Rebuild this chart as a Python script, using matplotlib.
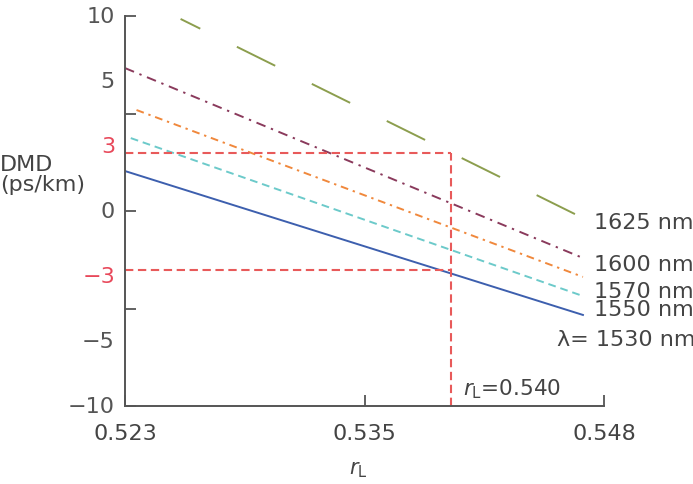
import matplotlib
matplotlib.use("Agg")
import matplotlib.pyplot as plt
import numpy as np

plt.rcParams["font.family"] = ["DejaVu Sans"]
plt.rcParams["mathtext.fontset"] = "dejavusans"

# line end points (r_L, DMD in ps/km)
x_1530 = [0.5230, 0.5469]
y_1530 = [2.05, -5.33]
x_1550 = [0.5233, 0.5469]
y_1550 = [3.74, -4.36]
x_1570 = [0.5236, 0.5469]
y_1570 = [5.18, -3.38]
x_1600 = [0.5230, 0.5469]
y_1600 = [7.33, -2.41]
x_1625 = [0.5259, 0.5469]
y_1625 = [9.85, -0.36]

r_sel = 0.540
dmd_hi = 3
dmd_lo = -3

xticks = [0.523, 0.5355, 0.548]
xtick_labels = ["0.523", "0.535", "0.548"]
yticks = [10, 5, 0, -5, -10]
ylabels = ["10", "5", "3", "0", "\u22123", "\u22125", "\u221210"]
ylabel_colors = ["#555555", "#555555", "#e8485a", "#555555", "#e8485a", "#555555", "#555555"]

gray = "#555555"
red = "#e85a5a"
fs = 16

fig = plt.figure(figsize=(6.93, 4.85), dpi=100)
ax = fig.add_axes([0.1804, 0.1608, 0.6912, 0.8041])

ax.plot(x_1625, y_1625, color="#8c9e4e", lw=1.4, linestyle=(10.7, (22, 21)))
ax.plot(x_1600, y_1600, color="#8a3a5c", lw=1.4, dashes=(5, 3, 1.2, 3))
ax.plot(x_1570, y_1570, color="#f0883c", lw=1.4, dashes=(4, 2.5, 1.2, 2.5))
ax.plot(x_1550, y_1550, color="#6ccaca", lw=1.4, dashes=(4, 2.5))
ax.plot(x_1530, y_1530, color="#3d5fae", lw=1.4)

# red guide lines
ax.plot([0.523, r_sel], [dmd_hi, dmd_hi], color=red, lw=1.5, dashes=(4, 2.2))
ax.plot([0.523, r_sel], [dmd_lo, dmd_lo], color=red, lw=1.5, dashes=(4, 2.2))
ax.plot([r_sel, r_sel], [-10, dmd_hi], color=red, lw=1.5, dashes=(4, 2.2))

ax.set_xlim(0.523, 0.548)
ax.set_ylim(-10, 10)
ax.spines["top"].set_visible(False)
ax.spines["right"].set_visible(False)
for s in ["left", "bottom"]:
    ax.spines[s].set_color(gray)
    ax.spines[s].set_linewidth(1.4)

ax.set_xticks(xticks)
ax.set_xticklabels(xtick_labels)
ax.set_yticks(yticks)
ax.set_yticklabels([])
ax.tick_params(direction="in", length=8, width=1.3, color=gray,
               labelsize=fs, labelcolor="#444444")
ax.tick_params(axis="x", pad=12)

# y labels are evenly spaced in the original, not at the ticks
for i, (lab, c) in enumerate(zip(ylabels, ylabel_colors)):
    ax.text(-0.021, 1 - i / 6, lab, transform=ax.transAxes, ha="right",
            va="center", fontsize=fs, color=c)

# wavelength labels
lab_kw = dict(fontsize=fs, color="#444444", va="center", clip_on=False)
ax.text(0.54748, -0.56, "1625 nm", **lab_kw)
ax.text(0.54748, -2.72, "1600 nm", **lab_kw)
ax.text(0.54748, -4.10, "1570 nm", **lab_kw)
ax.text(0.54748, -5.03, "1550 nm", **lab_kw)
ax.text(0.54555, -6.56, "\u03bb= 1530 nm", **lab_kw)

ax.text(0.54064, -9.08, r"$r_{\rm L}$=0.540", fontsize=15.5, color="#444444",
        va="center")

fig.text(0.0, 0.64, "DMD\n(ps/km)", ha="left", va="center", fontsize=16,
         color="#444444", linespacing=1.0)
fig.text(0.5166, 0.031, r"$r_{\rm L}$", ha="center", va="center",
         fontsize=15, color="#444444")

fig.savefig("out.png", dpi=100)
